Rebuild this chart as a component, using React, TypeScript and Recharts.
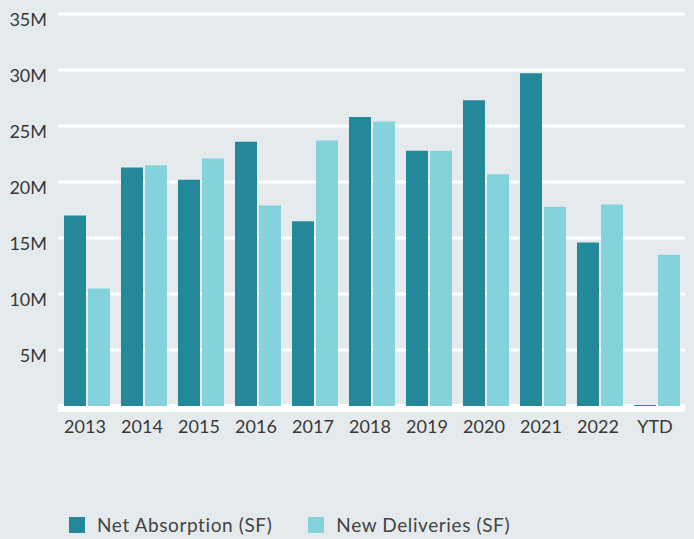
import React from 'react';
import { BarChart, Bar, XAxis, YAxis, CartesianGrid, Legend } from 'recharts';

const categories = ['2013', '2014', '2015', '2016', '2017', '2018', '2019', '2020', '2021', '2022', 'YTD'];
const netAbsorption = [17.0, 21.3, 20.2, 23.6, 16.5, 25.8, 22.8, 27.3, 29.7, 14.6, 0.1];
const newDeliveries = [10.5, 21.5, 22.1, 17.9, 23.7, 25.4, 22.8, 20.7, 17.8, 18.0, 13.5];
const yTicks = [0, 5, 10, 15, 20, 25, 30, 35];
const seriesNames = ['Net Absorption (SF)', 'New Deliveries (SF)'];

const DARK = '#23889a';
const LIGHT = '#84d2dc';
const BG = '#e5eaed';
const TEXT = '#383838';
const LEGEND_TEXT = '#444444';
const FONT = 'Lato, "Noto Sans", sans-serif';

const W = 694;
const H = 539;
const MARGIN = { top: 14, right: 9, left: 0, bottom: 103 };
const XAXIS_H = 30;
const PLOT_BOTTOM = H - MARGIN.bottom - XAXIS_H;

const data = categories.map((c, i) => ({
  name: c,
  net: netAbsorption[i],
  del: newDeliveries[i],
}));

const GridLine = (props: any) => {
  const { x1, x2, y1 } = props;
  if (Math.abs(y1 - PLOT_BOTTOM) < 2) {
    return <rect x={x1} y={y1 - 2} width={x2 - x1} height={8} fill="#ffffff" />;
  }
  return <line x1={x1} x2={x2} y1={y1} y2={y1} stroke="#ffffff" strokeWidth={3} />;
};

const YTick = (props: any) => {
  const { x, y, payload } = props;
  if (payload.value === 0) return null;
  return (
    <text x={x - 11} y={y + 11.5} textAnchor="end" fill={TEXT} fontSize={18} fontFamily={FONT}>
      {`${payload.value}M`}
    </text>
  );
};

const XTick = (props: any) => {
  const { x, y, payload } = props;
  return (
    <text x={x - 1.5} y={y + 27} textAnchor="middle" fill={TEXT} fontSize={18} fontFamily={FONT}>
      {payload.value}
    </text>
  );
};

const LegendContent = () => {
  const colors = [DARK, LIGHT];
  return (
    <div
      style={{
        display: 'flex',
        alignItems: 'center',
        paddingLeft: 69,
        fontFamily: FONT,
        fontSize: 19,
        letterSpacing: '0.6px',
        color: LEGEND_TEXT,
      }}
    >
      {seriesNames.map((n, i) => (
        <div key={n} style={{ display: 'flex', alignItems: 'center', marginRight: 36 }}>
          <div style={{ width: 16, height: 16, background: colors[i], marginRight: 12 }} />
          <span style={{ lineHeight: '16px', whiteSpace: 'nowrap' }}>{n}</span>
        </div>
      ))}
    </div>
  );
};

export default function App() {
  return (
    <div style={{ position: 'absolute', left: 0, top: 0, width: W, height: H, background: BG }}>
      <BarChart width={W} height={H} data={data} margin={MARGIN} barCategoryGap="10.5%" barGap={2}>
        <CartesianGrid vertical={false} horizontal={GridLine as any} />
        <XAxis
          dataKey="name"
          height={XAXIS_H}
          axisLine={false}
          tickLine={false}
          tickSize={0}
          tickMargin={0}
          tick={<XTick />}
          interval={0}
        />
        <YAxis
          width={58}
          domain={[0, 35]}
          ticks={yTicks}
          axisLine={false}
          tickLine={false}
          tickSize={0}
          tickMargin={0}
          tick={<YTick />}
          interval={0}
        />
        <Legend
          layout="horizontal"
          verticalAlign="middle"
          align="center"
          wrapperStyle={{ top: 517, left: 0, width: W }}
          content={<LegendContent />}
        />
        <Bar dataKey="net" name={seriesNames[0]} fill={DARK} isAnimationActive={false} />
        <Bar dataKey="del" name={seriesNames[1]} fill={LIGHT} isAnimationActive={false} />
      </BarChart>
    </div>
  );
}
